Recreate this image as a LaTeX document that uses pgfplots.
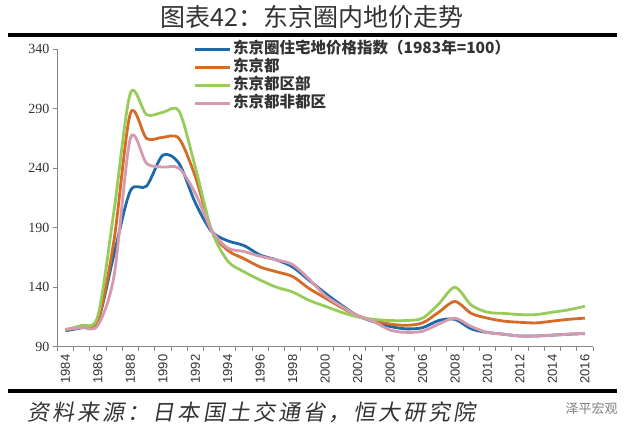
\documentclass[border=0pt]{standalone}
\usepackage{fontspec}
\setmainfont{Liberation Serif}
\setsansfont{Liberation Sans}
\newfontfamily\cjk{Noto Sans CJK SC}
\newfontfamily\cjksrc{Noto Sans CJK SC}[FakeSlant=0.18, LetterSpace=14]
\usepackage{pgfplots}
\pgfplotsset{compat=1.18}

\definecolor{cblue}{HTML}{1E6AA8}
\definecolor{corange}{HTML}{D46B26}
\definecolor{cgreen}{HTML}{98CC5A}
\definecolor{cpink}{HTML}{D69AAE}
\definecolor{axisgray}{HTML}{868686}
\definecolor{labgray}{HTML}{333333}

% year, blue (东京圈), orange (东京都), green (都区部), pink (非都区)
\pgfplotstableread{
year  quan   du     qu     fei
1984  103.5  104    104.5  104.5
1985  106    107    108    106
1986  112    112    116    108
1987  168    180    205    150
1988  221    286    303    265
1989  225    265    285    244
1990  251    266    287    241
1991  244    265    288    240
1992  211    233    241    219
1993  187    188    188    188
1994  179    171    162    173
1995  175    164    153    170
1996  167    157    146    166
1997  163    153    140    163
1998  157    149    136    159
1999  146    139    129    147
2000  135    131    124    133
2001  125    123    119    124
2002  116    116    115    116
2003  111    112    113    111
2004  107    109    112    104
2005  105    108    112    102
2006  106    110    114    103
2007  112    119    126    109
2008  113    128    140    114
2009  105    118    125    107
2010  102    114    119    102
2011  100.5  111.5  118    100.5
2012  99     110.5  117    99
2013  99     110    117    99
2014  99.7   111.5  119    99.7
2015  100.5  113    121    100.5
2016  101    114    124    101.3
}\landdata

\begin{document}
\begin{tikzpicture}
\useasboundingbox (0pt,0pt) rectangle (624pt,431pt);
\fill[white] (0pt,0pt) rectangle (624pt,431pt);

% title and rules
\node[font=\cjk\fontsize{25}{27}\selectfont, text=labgray] at (312pt,414pt) {图表42：东京圈内地价走势};
\fill[black] (8pt,394pt) rectangle (617pt,398pt);
\fill[black] (8pt,38pt) rectangle (617pt,42pt);
\node[anchor=west, font=\cjksrc\fontsize{22}{24}\selectfont, text=labgray] at (24pt,19pt) {资料来源：日本国土交通省，恒大研究院};
\node[anchor=west, font=\cjk\fontsize{13}{14}\selectfont, text=gray] at (562pt,22pt) {泽平宏观};

\begin{axis}[
    at={(57.3pt,84.3pt)}, anchor=south west,
    scale only axis,
    width=535.7pt, height=297.4pt,
    xmin=1983.5, xmax=2016.5,
    ymin=90, ymax=340,
    axis x line*=bottom, axis y line*=left,
    axis line style={draw=axisgray, line width=0.8pt},
    tick align=outside,
    major tick length=4.5pt, minor tick length=4.5pt,
    xtick={1984,1986,...,2016},
    xticklabels={1984,1986,1988,1990,1992,1994,1996,1998,2000,2002,2004,2006,2008,2010,2012,2014,2016},
    minor xtick={1983.5,1984.5,...,2016.5},
    major x tick style={draw=none},
    minor x tick style={draw=axisgray, line width=0.8pt},
    ytick={90,140,190,240,290,340},
    yticklabels={90,140,190,240,290,340},
    ytick style={draw=axisgray, line width=0.8pt},
    xticklabel style={rotate=90, anchor=east, font=\sffamily\fontsize{13}{14}\selectfont, text=labgray},
    yticklabel style={font=\fontsize{14}{15}\selectfont, text=labgray},
    legend cell align=left,
    legend style={at={(0.254,1.03)}, anchor=north west, draw=none, fill=none,
        font=\cjk\bfseries\fontsize{15.5}{17}\selectfont, text=labgray,
        row sep=0pt, inner sep=0pt,
        nodes={inner ysep=0pt, inner xsep=1.5pt, text height=13pt, text depth=5pt}},
    legend image code/.code={\draw[#1, line width=3pt] (0pt,0pt) -- (35pt,0pt);},
    every axis plot/.append style={line width=2.8pt, smooth, no marks},
]
\addplot[cblue]   table[x=year, y=quan] {\landdata};
\addlegendentry{东京圈住宅地价格指数（1983年=100）}
\addplot[corange] table[x=year, y=du] {\landdata};
\addlegendentry{东京都}
\addplot[cgreen]  table[x=year, y=qu] {\landdata};
\addlegendentry{东京都区部}
\addplot[cpink]   table[x=year, y=fei] {\landdata};
\addlegendentry{东京都非都区}
\end{axis}
\end{tikzpicture}
\end{document}
